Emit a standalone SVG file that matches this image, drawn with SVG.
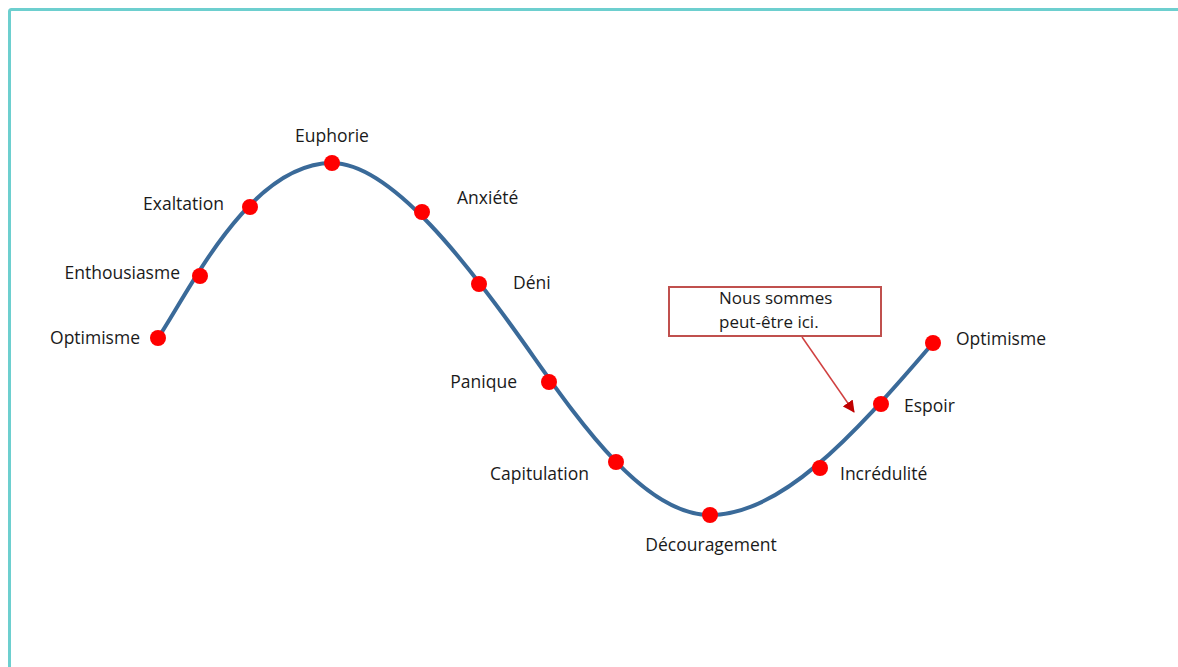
<svg xmlns="http://www.w3.org/2000/svg" width="1178" height="667" viewBox="0 0 1178 667">
<style>
.lbl{font-family:"Open Sans","Liberation Sans",sans-serif;font-size:17.5px;fill:#1a1a1a}
.dot{fill:#ff0000}
.note{font-family:"Open Sans","Liberation Sans",sans-serif;font-size:17px;fill:#1a1a1a}
</style>
<defs>
<marker id="ah" markerWidth="12" markerHeight="12" refX="11" refY="6" orient="auto" markerUnits="userSpaceOnUse">
<path d="M0,0 L12,6 L0,12 Z" fill="#c00000"/>
</marker>
</defs>
<rect x="0" y="0" width="1178" height="667" fill="#ffffff"/>
<rect id="frame" x="9.5" y="9.5" width="1200" height="700" fill="none" stroke="#6dcfcf" stroke-width="3" rx="2"/>
<g id="connectors">
<path id="curve" d="M158,338 C190,290 250,163 332,163 C392,163 471,269 521,339 C571,409 640,515 710,515 C780,515 850,440 933,343" fill="none" stroke="#3a6a99" stroke-width="4"/>
<line x1="802" y1="337" x2="854" y2="412" stroke="#d04040" stroke-width="1.5" marker-end="url(#ah)"/>
</g>
<g id="n1"><circle class="dot" cx="158" cy="338" r="8"/><text class="lbl" x="140" y="344" text-anchor="end">Optimisme</text></g>
<g id="n2"><circle class="dot" cx="200" cy="276" r="8"/><text class="lbl" x="180" y="279" text-anchor="end">Enthousiasme</text></g>
<g id="n3"><circle class="dot" cx="250" cy="207" r="8"/><text class="lbl" x="224" y="210" text-anchor="end">Exaltation</text></g>
<g id="n4"><circle class="dot" cx="332" cy="163" r="8"/><text class="lbl" x="332" y="142" text-anchor="middle">Euphorie</text></g>
<g id="n5"><circle class="dot" cx="422" cy="212" r="8"/><text class="lbl" x="457" y="204">Anxiété</text></g>
<g id="n6"><circle class="dot" cx="479" cy="284" r="8"/><text class="lbl" x="513" y="289">Déni</text></g>
<g id="n7"><circle class="dot" cx="549" cy="382" r="8"/><text class="lbl" x="517" y="388" text-anchor="end">Panique</text></g>
<g id="n8"><circle class="dot" cx="616" cy="462" r="8"/><text class="lbl" x="589" y="480" text-anchor="end">Capitulation</text></g>
<g id="n9"><circle class="dot" cx="710" cy="515" r="8"/><text class="lbl" x="711" y="551" text-anchor="middle">Découragement</text></g>
<g id="n10"><circle class="dot" cx="820" cy="468" r="8"/><text class="lbl" x="840" y="480">Incrédulité</text></g>
<g id="n11"><circle class="dot" cx="881" cy="404" r="8"/><text class="lbl" x="904" y="412">Espoir</text></g>
<g id="n12"><circle class="dot" cx="933" cy="343" r="8"/><text class="lbl" x="956" y="345">Optimisme</text></g>
<g id="note">
<rect x="669" y="287" width="212" height="49" fill="#ffffff" stroke="#c0504d" stroke-width="2"/>
<text class="note" x="719" y="304">Nous sommes</text>
<text class="note" x="719" y="328">peut-être ici.</text>
</g>
</svg>
